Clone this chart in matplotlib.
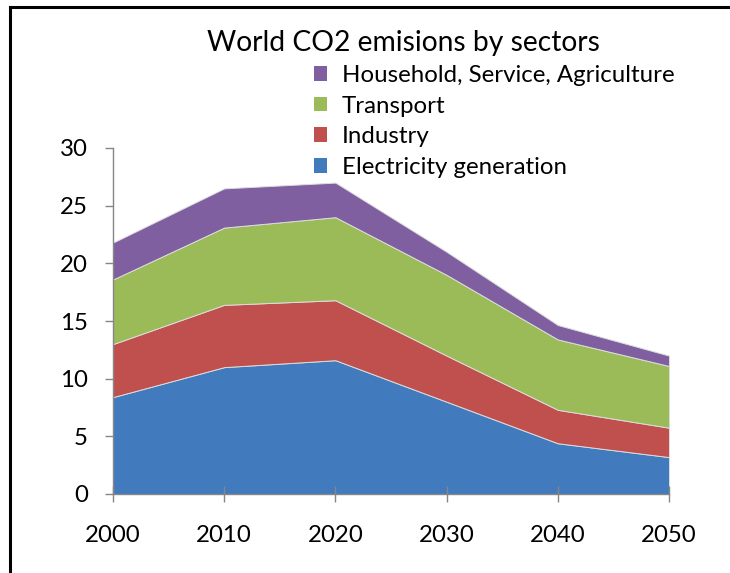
import matplotlib
matplotlib.use("Agg")
import matplotlib.pyplot as plt
from matplotlib.patches import Patch
from matplotlib.lines import Line2D

years = [2000, 2010, 2020, 2030, 2040, 2050]
electricity = [8.4, 11.0, 11.6, 8.0, 4.4, 3.2]
industry = [4.6, 5.4, 5.2, 4.0, 2.9, 2.55]
transport = [5.6, 6.7, 7.2, 7.0, 6.1, 5.35]
household = [3.2, 3.4, 3.0, 2.0, 1.25, 0.9]
labels = ["Electricity generation", "Industry", "Transport",
          "Household, Service, Agriculture"]
colors = ["#417ABD", "#C0504D", "#9BBB59", "#7F5FA0"]
title = "World CO2 emisions by sectors"
yticks = [0, 5, 10, 15, 20, 25, 30]

plt.rcParams['font.family'] = ['Lato', 'DejaVu Sans']

fig = plt.figure(figsize=(7.3, 5.73), dpi=100)
ax = fig.add_axes([113/730, 1-494/573, (669-113)/730, (494-148)/573])

ax.stackplot(years, electricity, industry, transport, household,
             colors=colors, edgecolor="#dcdcdc", linewidth=0.7)
ax.set_xlim(2000, 2050)
ax.set_ylim(0, 30)
ax.set_xticks(years)
ax.set_yticks(yticks)
for s in ["top", "right"]:
    ax.spines[s].set_visible(False)
for s in ["left", "bottom"]:
    ax.spines[s].set_color("#868686")
    ax.spines[s].set_linewidth(1.0)
    ax.spines[s].set_zorder(5)
ax.tick_params(axis="x", direction="inout", length=11, width=1.0,
               color="#868686", labelsize=17.3, pad=17, labelcolor="#000000")
ax.tick_params(axis="y", direction="out", length=6, width=1.0,
               color="#868686", labelsize=17.3, pad=12, labelcolor="#000000")
for t in ax.get_xticklines():
    t.set_zorder(6)

fig.text(403/730, 1-43/573, title, ha="center", va="center", fontsize=20.3)

handles = [Patch(facecolor=c, edgecolor="none") for c in colors][::-1]
fig.legend(handles, labels[::-1], loc="upper left",
           bbox_to_anchor=(314/730, 1-65/573), frameon=False,
           fontsize=17.3, handlelength=0.55, handleheight=0.55,
           handletextpad=0.6, labelspacing=0.40, borderaxespad=0,
           borderpad=0)

# outer frame lines (top and left)
fig.add_artist(Line2D([9.5/730, 728/730], [1-6.5/573, 1-6.5/573],
                      transform=fig.transFigure, color="black", lw=2.2))
fig.add_artist(Line2D([9.5/730, 9.5/730], [1-6.5/573, 0],
                      transform=fig.transFigure, color="black", lw=2.2))

fig.savefig("out.png", dpi=100)
